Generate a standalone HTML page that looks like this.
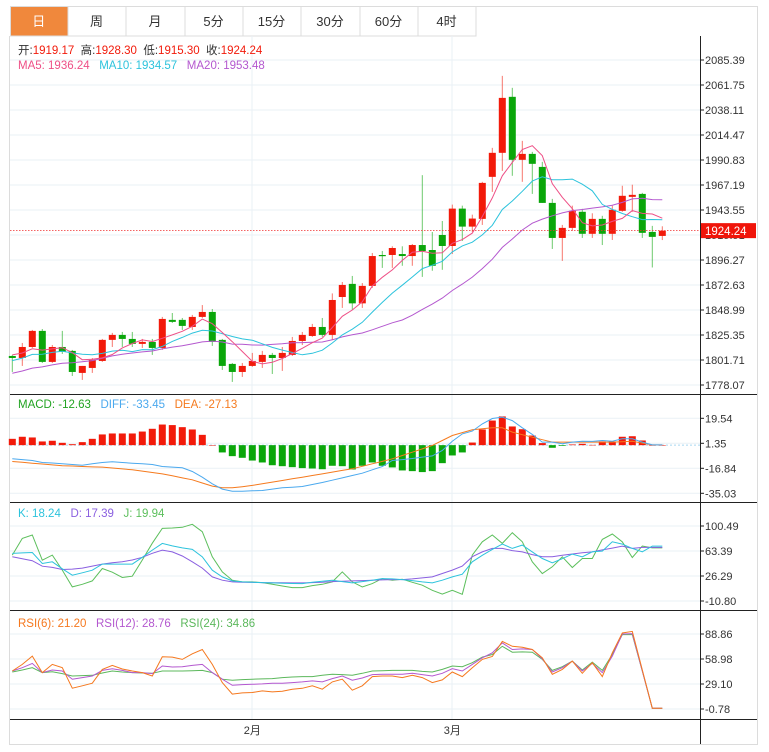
<!DOCTYPE html>
<html><head><meta charset="utf-8"><style>
body{margin:0;background:#fff;}
svg{display:block;font-family:"Liberation Sans","Noto Sans CJK SC",sans-serif;}
</style></head><body>
<svg id="c" width="769" height="752" viewBox="0 0 769 752" xmlns="http://www.w3.org/2000/svg"></svg>
<script>
const tabs=["日","周","月","5分","15分","30分","60分","4时"];
const tabEdges=[10,67.5,125.5,184.5,242.5,300.5,359.5,417.5,475.5];
const prevCloses=[1772,1775,1778,1776,1780,1779,1777,1781,1778,1780,1790,1795,1798,1797,1800,1805,1810,1806,1809];
const ohlc=[[1805.8,1806.8,1790.7,1803.9],[1803.9,1818.1,1796.4,1814.3],[1814.3,1830.4,1813.4,1829.5],[1829.5,1831.3,1799.2,1800.2],[1800.2,1816.2,1799.2,1814.3],[1814.3,1829.5,1807.7,1809.6],[1810.6,1811.5,1786.9,1790.7],[1789.8,1796.4,1783.2,1796.4],[1794.5,1803.9,1789.8,1802.1],[1801.1,1821.9,1800.2,1821.0],[1821.0,1827.6,1814.3,1825.7],[1825.7,1828.5,1814.3,1821.9],[1821.9,1828.5,1814.3,1817.2],[1817.2,1821.9,1813.4,1819.1],[1819.1,1821.9,1806.8,1813.4],[1813.4,1842.7,1811.5,1840.8],[1839.9,1846.4,1837.0,1838.0],[1839.9,1841.7,1830.4,1834.2],[1833.2,1844.6,1830.4,1842.7],[1842.7,1853.9,1841.7,1847.4],[1847.4,1850.2,1815.3,1819.1],[1821.0,1821.9,1792.6,1796.4],[1798.3,1799.2,1781.3,1790.7],[1790.7,1799.2,1786.0,1796.4],[1796.4,1808.7,1795.5,1801.1],[1800.2,1810.6,1794.5,1806.8],[1806.8,1808.7,1788.8,1803.9],[1803.9,1814.3,1791.7,1808.7],[1806.8,1823.8,1805.8,1820.0],[1820.0,1828.5,1816.2,1825.7],[1824.7,1836.1,1823.8,1833.2],[1833.2,1841.7,1823.8,1825.7],[1825.7,1864.9,1821.0,1858.7],[1861.5,1875.7,1851.2,1872.9],[1873.9,1881.4,1849.3,1855.5],[1855.5,1874.7,1851.2,1872.0],[1872.0,1903.1,1870.1,1900.2],[1901.2,1905.0,1889.0,1900.2],[1901.2,1909.4,1889.0,1907.8],[1902.1,1909.4,1891.0,1900.2],[1900.2,1911.6,1891.0,1910.6],[1910.6,1976.6,1880.5,1904.9],[1905.9,1922.9,1886.3,1891.0],[1920.1,1933.3,1887.2,1909.7],[1909.7,1948.8,1902.1,1945.0],[1945.0,1947.8,1914.4,1928.0],[1928.0,1939.3,1922.9,1935.6],[1935.3,1970.3,1929.6,1969.3],[1975.0,2002.4,1960.8,1997.7],[1997.7,2070.4,1980.6,2049.6],[2050.6,2059.1,1976.0,1991.1],[1991.1,2009.0,1970.3,1996.7],[1996.7,1998.6,1958.9,1987.3],[1984.4,1989.2,1950.4,1950.4],[1950.4,1954.2,1906.9,1917.3],[1917.3,1929.6,1895.6,1926.8],[1926.8,1947.8,1924.0,1942.9],[1942.0,1944.8,1917.3,1921.2],[1921.2,1940.6,1917.3,1935.3],[1935.3,1938.2,1910.6,1921.2],[1921.2,1947.8,1915.4,1943.9],[1942.9,1966.6,1942.0,1957.1],[1956.1,1967.6,1942.0,1958.0],[1958.9,1959.9,1917.3,1922.1],[1923.0,1928.7,1889.4,1918.3],[1919.2,1928.3,1915.3,1924.2]];
const priceTicks=["2085.39","2061.75","2038.11","2014.47","1990.83","1967.19","1943.55","1919.91","1896.27","1872.63","1848.99","1825.35","1801.71","1778.07"];
const macdHist=[4.6,6.1,5.6,2.7,3.2,1.7,0.7,2.2,4.6,7.8,8.5,8.5,8.5,9.9,11.9,15.0,14.6,13.1,11.4,7.5,0,-5.3,-8.0,-9.2,-11.2,-12.6,-14.6,-15.3,-16.0,-16.7,-17.0,-17.5,-15.0,-15.3,-17.7,-15.0,-12.6,-15.0,-16.2,-18.4,-18.9,-19.6,-18.9,-13.1,-7.5,-5.3,1.9,11.4,17.9,20.9,13.6,11.6,7.0,1.5,-1.9,-0.5,0.5,1.0,0.2,2.7,2.7,6.1,6.5,3.4,0,0];
const diff=[-9.9,-10.5,-11.2,-12.6,-13.0,-13.6,-14.1,-14.6,-13.6,-12.6,-12.1,-12.6,-13.1,-13.6,-14.1,-15.5,-16.0,-16.5,-19.2,-23.3,-28.1,-32.0,-33.5,-33.5,-33.2,-33.0,-32.0,-31.0,-30.6,-30.1,-28.6,-27.2,-25.5,-23.8,-22.1,-20.4,-17.9,-15.5,-11.2,-10.5,-9.7,-8.7,-7.8,-3.9,2.9,8.2,10.2,15.5,19.4,20.4,17.9,12.6,7.8,2.2,2.2,1.0,2.2,2.9,2.7,3.4,2.9,4.6,4.6,2.2,0.2,0.2];
const dea=[-11.9,-12.5,-13.1,-13.7,-14.4,-15.0,-15.2,-15.5,-15.8,-16.0,-16.6,-17.3,-17.9,-18.9,-19.9,-20.9,-22.3,-23.8,-25.2,-27.5,-29.8,-31.0,-31.0,-30.2,-29.3,-28.1,-26.9,-25.7,-24.5,-23.3,-22.1,-20.9,-19.6,-18.4,-17.2,-15.4,-13.6,-11.8,-9.9,-7.5,-5.1,-2.7,-0.2,3.4,7.0,9.1,11.2,11.9,12.6,12.6,9.5,7.6,5.8,4.0,2.2,2.2,2.2,2.2,2.2,2.2,2.2,2.5,2.9,1.5,0.2,0.2];
const macdTicks=["19.54","1.35","-16.84","-35.03"];
const kVals=[59.8,60.5,61.2,44.9,47.3,37,27.5,31,34.9,43.9,43.9,43.9,43.9,54,64.7,74.7,71,68,65.7,54.8,34.9,25,19.0,17.5,17,16.5,16,15.5,15.2,15.0,17,18.5,20.0,18,16.0,18,20,22.5,22,21.0,19.5,17.5,16.0,20,25.0,29,47.3,57,65.7,73.7,67.2,72.2,62,52.3,45.9,52,58.8,54.8,62.2,63.2,77.1,73.7,67.2,62.2,70.7,70.7];
const dVals=[54.8,52,49,40.9,39,35.9,36.5,38,41,44,46,47.5,50,54,60,64.7,62,56,47.3,38,25.0,20,17.5,17,16.8,16.5,16.3,16.2,16,16.0,16.5,17,18,18.5,19,19.5,20,20.5,21,21.0,22,23.5,25.0,30,35,41,55,62,67.2,67.2,64,62,58,54.8,54.8,57,59,60.7,62,65,67.7,70.7,67.2,68.7,68.7,68.7];
const jVals=[57.3,82.1,87.1,49.8,57.3,35,10.1,14,19.0,37.4,32,24.0,26.0,50,75,97.0,97.5,98.5,103.0,92.0,54.8,32.4,20,17.5,17.5,16.5,14,11.5,9.1,9.1,12,14,17.5,32.4,17.5,10,15,22.5,20,21.5,17,12.6,5,-0.5,5.1,-0.9,57.3,77,87.1,74.7,90.5,77.1,47.3,29.9,40,54.8,38.9,52.3,52.3,80.6,88.6,77.1,53.8,70.7,68,68];
const kdjTicks=["100.49","63.39","26.29","-10.80"];
const rsi6=[44.6,52.5,62.4,42.7,52.5,48.6,24.1,27,30.0,46.6,51.3,47,44.6,42.7,38.7,61.6,61.2,58.5,65.2,70.3,52.5,30.8,17.0,18.5,19.0,20.9,19.7,20.5,22.9,24,26.9,22.9,31.6,34.8,21.7,26.9,37.9,38.7,38.7,36.7,39.5,36.7,30.8,34.0,43.4,37.9,48.6,58.5,62,80,74.2,73,70.3,60.4,40.7,46.6,56.5,41.9,54.5,37.9,66.4,90.0,92.0,46,0.0,0.0];
const rsi12=[44.6,48.6,53.7,42.7,45.8,44.6,34.8,36.7,38.7,45.4,47.4,45.4,42.7,42.7,41.5,50.6,49.4,49.8,51.3,52.5,42.7,34.8,27.6,28.4,28.8,29.2,30.0,30.0,30.8,31.6,32.8,31.6,35.5,38.7,33.6,36.3,40.3,40.7,40.7,40.7,41.9,40.3,38.7,41.9,47.4,44.6,52.5,60.4,66.4,78.2,70.3,71.1,70.3,59.2,43.4,48.6,56.5,44.6,53.7,42.7,62.4,88.9,89.3,44.6,0.0,0.0];
const rsi24=[43.4,45.8,48.6,42.7,43.8,41.5,38.7,39.1,39.5,42.3,44.6,43.4,42.7,42.3,41.9,44.6,44.6,44.6,45.0,45.4,42.7,34.8,33.6,34.4,34.8,35.2,35.5,36.7,37.5,37.9,37.9,39.5,40.7,40.3,39.5,41.9,44.6,45.0,45.4,45.4,45.4,44.2,43.4,46.6,50.6,49.8,54.5,61.2,64.4,74.2,67.1,67.5,67.1,58.5,45.4,49.8,56.5,45.8,55.3,45.4,64.4,88.1,88.1,44.6,0.0,0.0];
const rsiTicks=["88.86","58.98","29.10","-0.78"];
const months=[{label:"2月",i:24},{label:"3月",i:44}];

const NS="http://www.w3.org/2000/svg",svg=document.getElementById('c');
function el(t,a,p){const e=document.createElementNS(NS,t);for(const k in a)e.setAttribute(k,a[k]);(p||svg).appendChild(e);return e;}
const RED="#f21a0a",GREEN="#0aa60a";
const xI=i=>12.3+i*10;
const yP=p=>60+(2085.39-p)*1.0586;
const yM=v=>443.3-(v-1.35)*1.3744;
const yK=v=>551-(v-63.39)*25/37.1;
const yR=v=>659-(v-58.98)*25/29.88;

// tabs
tabs.forEach((t,k)=>{const x0=tabEdges[k],x1=tabEdges[k+1];
 const g=el('g',{});
 
 
 el('rect',{x:x0+0.5,y:6.5,width:x1-x0,height:29.5,fill:k===0?'#f0883c':'#fff',stroke:'#dcdcdc'},g);
 el('text',{x:(x0+x1)/2,y:26,'text-anchor':'middle','font-size':13,fill:k===0?'#fff':'#333'},g).textContent=t;});
// frame
el('path',{d:'M475.5 6.5H757.5V744.5H9.5V36',fill:'none',stroke:'#dcdcdc'});
// grid
const grid=el('g',{});
for(let k=0;k<14;k++)el('line',{x1:10,x2:700,y1:60+25*k,y2:60+25*k,stroke:'#eaf1f6'},grid);
for(let k=0;k<4;k++){el('line',{x1:10,x2:700,y1:418.3+25*k,y2:418.3+25*k,stroke:'#eaf1f6'},grid);
 el('line',{x1:10,x2:700,y1:526+25*k,y2:526+25*k,stroke:'#eaf1f6'},grid);
 el('line',{x1:10,x2:700,y1:634+25*k,y2:634+25*k,stroke:'#eaf1f6'},grid);}
months.forEach(m=>{el('line',{x1:xI(m.i)-0.3,x2:xI(m.i)-0.3,y1:36,y2:719,stroke:'#eaf1f6'},grid);
 const t=el('text',{x:xI(m.i),y:734,'text-anchor':'middle','font-size':11,fill:'#333'});t.textContent=m.label;
 });
// axes lines
[394,502,610,719].forEach(y=>el('line',{x1:10,x2:757,y1:y+0.5,y2:y+0.5,stroke:'#222'}));
el('line',{x1:700.5,x2:700.5,y1:36,y2:744,stroke:'#222'});
function ticks(arr,y0,name){const g=el('g',{});
 arr.forEach((t,k)=>{const y=y0+25*k;el('line',{x1:700,x2:704,y1:y,y2:y,stroke:'#222'},g);
 el('text',{x:705,y:y+4,'font-size':11,fill:'#333'},g).textContent=t;});}
ticks(priceTicks,60,'price-axis');ticks(macdTicks,418.3,'macd-axis');ticks(kdjTicks,526,'kdj-axis');ticks(rsiTicks,634,'rsi-axis');

// candles
const cg=el('g',{});
ohlc.forEach((d,i)=>{const [o,h,l,c]=d,up=c>=o,col=up?RED:GREEN,x=xI(i);
 const g=el('g',{},cg);
 el('line',{x1:x,x2:x,y1:yP(h),y2:yP(l),stroke:col,'stroke-opacity':0.6},g);
 const t=Math.min(yP(o),yP(c)),b=Math.max(yP(o),yP(c));
 el('rect',{x:x-3.5,y:t,width:7,height:Math.max(1.2,b-t),fill:col},g);});
// MAs
const closes=prevCloses.concat(ohlc.map(d=>d[3]));
function ma(n){return ohlc.map((d,i)=>{const j=i+prevCloses.length;let s=0,c=0;for(let k=Math.max(0,j-n+1);k<=j;k++){s+=closes[k];c++;}return s/c;});}
function line(vals,yf,col,name){const p=el('polyline',{points:vals.map((v,i)=>xI(i)+','+yf(v).toFixed(1)).join(' '),fill:'none',stroke:col,'stroke-width':1});
 }
line(ma(20),yP,'#b458cf','ma20-line');line(ma(10),yP,'#2cc3dc','ma10-line');line(ma(5),yP,'#ee4f86','ma5-line');
// last price
const lp=ohlc[ohlc.length-1][3];
el('line',{x1:10,x2:700,y1:yP(lp),y2:yP(lp),stroke:'#f03030','stroke-dasharray':'1.5,1.5','stroke-width':0.8});
const tag=el('g',{});
el('rect',{x:701,y:yP(lp)-7.5,width:55,height:15,fill:'#f0150a'},tag);
el('text',{x:705,y:yP(lp)+4.5,'font-size':11.5,fill:'#fff'},tag).textContent="1924.24";

// MACD
const mg=el('g',{});
el('line',{x1:10,x2:700,y1:yM(0),y2:yM(0),stroke:'#a8d8f0','stroke-dasharray':'2,2'},mg);
macdHist.forEach((v,i)=>{const y0=yM(0),y1=yM(v);const r=el('rect',{x:xI(i)-3.5,y:Math.min(y0,y1),width:7,height:Math.max(0.5,Math.abs(y1-y0)),fill:v>=0?RED:GREEN},mg);
 });
line(dea,yM,'#f57a1e','dea-line');line(diff,yM,'#4ba9ee','diff-line');
// KDJ
line(jVals,yK,'#5cbf5c','j-line');line(dVals,yK,'#8a5fe0','d-line');line(kVals,yK,'#2cc3dc','k-line');
// RSI
line(rsi24,yR,'#5cb85c','rsi24-line');line(rsi12,yR,'#b458cf','rsi12-line');line(rsi6,yR,'#f5781e','rsi6-line');

// legends
function legend(y,items,name){const t=el('text',{x:18,y:y,'font-size':11.5});
 items.forEach(([s,c])=>{const ts=el('tspan',{fill:c},t);ts.textContent=s;});}
legend(54,[["开:","#333"],["1919.17  ",RED],["高:","#333"],["1928.30  ",RED],["低:","#333"],["1915.30  ",RED],["收:","#333"],["1924.24",RED]],'ohlc-legend');
svg.lastChild.setAttribute('xml:space','preserve');svg.lastChild.style.whiteSpace='pre';
legend(69,[["MA5: 1936.24   ","#ee4f86"],["MA10: 1934.57   ","#2cc3dc"],["MA20: 1953.48","#b458cf"]],'ma-legend');
svg.lastChild.style.whiteSpace='pre';
legend(408,[["MACD: -12.63   ","#22a322"],["DIFF: -33.45   ","#4ba9ee"],["DEA: -27.13","#f57a1e"]],'macd-legend');
svg.lastChild.style.whiteSpace='pre';
legend(517,[["K: 18.24   ","#2cc3dc"],["D: 17.39   ","#8a5fe0"],["J: 19.94","#5cbf5c"]],'kdj-legend');
svg.lastChild.style.whiteSpace='pre';
legend(627,[["RSI(6): 21.20   ","#f5781e"],["RSI(12): 28.76   ","#b458cf"],["RSI(24): 34.86","#5cb85c"]],'rsi-legend');
svg.lastChild.style.whiteSpace='pre';
</script>
</body></html>
